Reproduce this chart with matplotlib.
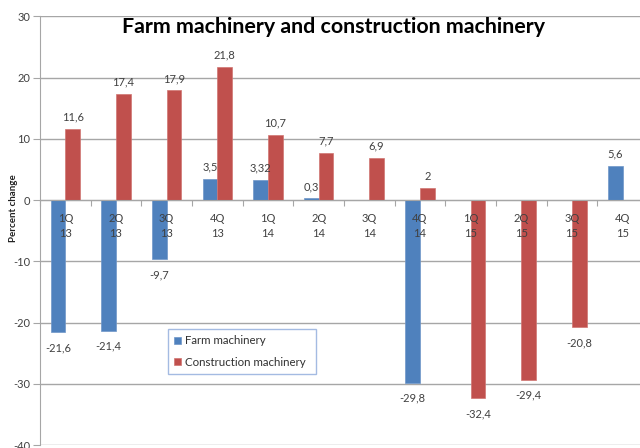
import numpy as np
import matplotlib
matplotlib.use("Agg")
import matplotlib.pyplot as plt

categories = ["1Q\n13", "2Q\n13", "3Q\n13", "4Q\n13", "1Q\n14", "2Q\n14",
              "3Q\n14", "4Q\n14", "1Q\n15", "2Q\n15", "3Q\n15", "4Q\n15"]
farm = [-21.6, -21.4, -9.7, 3.5, 3.32, 0.3, np.nan, -29.8, np.nan, np.nan, np.nan, 5.6]
construction = [11.6, 17.4, 17.9, 21.8, 10.7, 7.7, 6.9, 2, -32.4, -29.4, -20.8, np.nan]
yticks = [-40, -30, -20, -10, 0, 10, 20, 30]
series_names = ["Farm machinery", "Construction machinery"]
colors = ["#4f81bd", "#c0504d"]

plt.rcParams['font.family'] = ['Lato', 'DejaVu Sans']
W, H = 640, 448
fig = plt.figure(figsize=(W / 100, H / 100), dpi=100)
ax = fig.add_axes([40 / W, 3 / H, 608 / W, (445 - 16.4) / H])

x = np.arange(len(categories))
bw = 0.29
ax.bar(x - bw / 2, farm, bw, color=colors[0], label=series_names[0], zorder=2,
       edgecolor="#6f96c8", linewidth=0.5)
ax.bar(x + bw / 2, construction, bw, color=colors[1], label=series_names[1], zorder=2,
       edgecolor="#d07572", linewidth=0.5)

ax.set_xlim(-0.5, len(categories) - 0.5)
ax.set_ylim(-40, 30)
ax.set_yticks(yticks)
ax.set_yticklabels([str(v) for v in yticks], fontsize=8, color="#404040")
ax.yaxis.grid(True, color="#a6a6a6", linewidth=1.0, zorder=0)
ax.set_axisbelow(True)
ax.tick_params(axis='y', length=5, color="#a6a6a6", pad=2)

for s in ["top", "right"]:
    ax.spines[s].set_visible(False)
ax.spines["left"].set_color("#a6a6a6")
ax.spines["bottom"].set_position(("data", 0))
ax.spines["bottom"].set_color("#a6a6a6")
ax.spines["bottom"].set_zorder(3)
ax.set_xticks(np.arange(len(categories) + 1) - 0.5)
ax.set_xticklabels([])
ax.tick_params(axis='x', length=4, color="#a6a6a6", direction='out')

for xi, lab in zip(x, categories):
    ax.annotate(lab, (xi, 0), xytext=(0, -18.5), textcoords="offset points",
                ha="center", va="center", fontsize=8, color="#404040",
                linespacing=1.5, zorder=5)

def fmt(v):
    return ("%g" % v).replace(".", ",")

for vals, offs in ((farm, -bw / 2), (construction, bw / 2)):
    for xi, v in zip(x, vals):
        if np.isnan(v):
            continue
        dy = 8.5 if v >= 0 else -11
        ax.annotate(fmt(v), (xi + offs, v), xytext=(0, dy), textcoords="offset points",
                    ha="center", va="center", fontsize=8, color="#404040", zorder=5)

fig.text(333 / W, 1 - 27 / H, "Farm machinery and construction machinery",
         ha="center", va="center", fontsize=15.4, fontweight="bold", color="black")

fig.text(14 / W, 1 - 208 / H, "Percent change", rotation=90, ha="center", va="center",
         fontsize=7, fontweight="bold", color="#202020")

leg = ax.legend(loc="upper left", bbox_to_anchor=(168 / W, 1 - 377 / H, 148 / W, 48 / H),
                bbox_transform=fig.transFigure, mode="expand", fontsize=8.3,
                frameon=True, fancybox=False, handlelength=0.6, handleheight=0.6,
                handletextpad=0.3, labelspacing=0.9, borderpad=0.55, borderaxespad=0)
leg.get_frame().set_edgecolor("#8eaadb")
leg.get_frame().set_linewidth(1.0)
for t in leg.get_texts():
    t.set_color("#303030")

fig.savefig("out.png", dpi=100)
